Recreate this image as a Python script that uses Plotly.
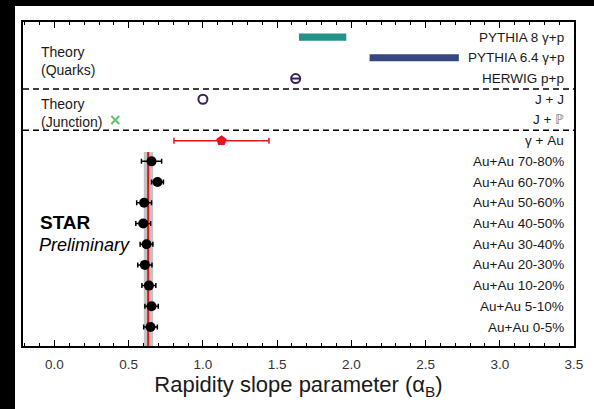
import plotly.graph_objects as go

# ---------------- data ----------------
auau_labels = ["Au+Au 0-5%", "Au+Au 5-10%", "Au+Au 10-20%", "Au+Au 20-30%", "Au+Au 30-40%",
               "Au+Au 40-50%", "Au+Au 50-60%", "Au+Au 60-70%", "Au+Au 70-80%"]
auau_y = [1, 2, 3, 4, 5, 6, 7, 8, 9]
auau_val = [0.647, 0.654, 0.636, 0.609, 0.620, 0.598, 0.604, 0.694, 0.654]
auau_err = [0.046, 0.045, 0.047, 0.048, 0.043, 0.050, 0.050, 0.040, 0.068]

gau_label = "γ + Au"
gau_y = 10
gau_val = 1.125
gau_err = 0.32

jp_label = "J + <span style='color:#888888'>ℙ</span>"
jp_y = 11
jp_val = 0.41

jj_label = "J + J"
jj_y = 12
jj_val = 1.0

herwig_label = "HERWIG p+p"
herwig_y = 13
herwig_val = 1.625

py64_label = "PYTHIA 6.4 γ+p"
py64_y = 14
py64_range = [2.123, 2.724]

py8_label = "PYTHIA 8 γ+p"
py8_y = 15
py8_range = [1.647, 1.966]

avg_val = 0.631              # red line
band_range = [0.602, 0.665]  # grey band
band_top = 9.45

separators = [10.5, 12.5]
xticks = [0.0, 0.5, 1.0, 1.5, 2.0, 2.5, 3.0, 3.5]

# ---------------- layout geometry ----------------
W, H = 594, 409
L, R, T, B = 23, 19.5, 22, 63
pw, ph = W - L - R, H - T - B
def px_x(p):
    return (p - L) / pw
def px_y(p):
    return (H - B - p) / ph

FONT = "Liberation Sans, Arial, Helvetica, sans-serif"
TXT = "#1a1a1a"

fig = go.Figure()

# grey band
fig.add_trace(go.Scatter(
    x=[band_range[0], band_range[1], band_range[1], band_range[0], band_range[0]],
    y=[0, 0, band_top, band_top, 0],
    fill="toself", fillcolor="rgba(185,185,185,0.85)", line=dict(width=0),
    mode="lines", hoverinfo="skip", showlegend=False))
# red average line
fig.add_trace(go.Scatter(x=[avg_val, avg_val], y=[0, band_top], mode="lines",
                         line=dict(color="#e0141c", width=2), showlegend=False))

# Au+Au points
fig.add_trace(go.Scatter(
    x=auau_val, y=auau_y, mode="markers",
    marker=dict(color="black", size=10),
    error_x=dict(type="data", array=auau_err, color="black", thickness=1.5, width=2.5),
    showlegend=False))

# gamma + Au
fig.add_trace(go.Scatter(
    x=[gau_val], y=[gau_y], mode="markers",
    marker=dict(color="#e8141c", size=11, symbol="pentagon"),
    error_x=dict(type="data", array=[gau_err], color="#e8141c", thickness=1.5, width=3),
    showlegend=False))

# J + P
fig.add_trace(go.Scatter(x=[jp_val], y=[jp_y], mode="markers",
                         marker=dict(symbol="x-thin", size=8, line=dict(color="#62c26e", width=2)),
                         showlegend=False))
# J + J
fig.add_trace(go.Scatter(x=[jj_val], y=[jj_y], mode="markers",
                         marker=dict(symbol="circle-open", size=9, color="#3b1f5c",
                                     line=dict(color="#3b1f5c", width=2)),
                         showlegend=False))
# HERWIG
fig.add_trace(go.Scatter(x=[herwig_val], y=[herwig_y], mode="markers",
                         marker=dict(symbol="circle-open", size=9, color="#3b1f5c",
                                     line=dict(color="#3b1f5c", width=2)),
                         showlegend=False))
fig.add_trace(go.Scatter(x=[herwig_val], y=[herwig_y], mode="markers",
                         marker=dict(symbol="line-ew", size=7, color="#3b1f5c",
                                     line=dict(color="#3b1f5c", width=2)),
                         showlegend=False))

# PYTHIA bars
fig.add_trace(go.Bar(y=[py8_y], x=[py8_range[1] - py8_range[0]], base=[py8_range[0]],
                     orientation="h", width=0.34, marker=dict(color="#23928a", line=dict(width=0)),
                     showlegend=False))
fig.add_trace(go.Bar(y=[py64_y], x=[py64_range[1] - py64_range[0]], base=[py64_range[0]],
                     orientation="h", width=0.34, marker=dict(color="#34477f", line=dict(width=0)),
                     showlegend=False))

# invisible trace on the top axis so it gets drawn
fig.add_trace(go.Scatter(x=[xticks[0]], y=[1], xaxis="x2", mode="markers",
                         marker=dict(opacity=0), hoverinfo="skip", showlegend=False))

# separators
for s in separators:
    fig.add_shape(type="line", xref="paper", x0=0, x1=1, yref="y", y0=s, y1=s,
                  line=dict(color="black", width=1.5, dash="6px,4px"))

# right-hand labels
right_labels = [(l, y) for l, y in zip(auau_labels, auau_y)] + [
    (gau_label, gau_y), (jp_label, jp_y), (jj_label, jj_y), (herwig_label, herwig_y),
    (py64_label, py64_y), (py8_label, py8_y)]
for lab, yv in right_labels:
    fig.add_annotation(x=px_x(566), xref="paper", y=yv, yref="y", text=lab,
                       showarrow=False, xanchor="right", yanchor="middle",
                       font=dict(family=FONT, size=13.5, color=TXT))

# left texts
fig.add_annotation(x=px_x(39), xref="paper", y=px_y(61), yref="paper",
                   text="Theory<br>(Quarks)", showarrow=False, xanchor="left", yanchor="middle",
                   align="left", font=dict(family=FONT, size=14, color=TXT))
fig.add_annotation(x=px_x(39), xref="paper", y=px_y(113), yref="paper",
                   text="Theory<br>(Junction)", showarrow=False, xanchor="left", yanchor="middle",
                   align="left", font=dict(family=FONT, size=14, color=TXT))
fig.add_annotation(x=px_x(38), xref="paper", y=px_y(222), yref="paper",
                   text="<b>STAR</b>", showarrow=False, xanchor="left", yanchor="middle",
                   font=dict(family=FONT, size=19, color="black"))
fig.add_annotation(x=px_x(37), xref="paper", y=px_y(245), yref="paper",
                   text="<i>Preliminary</i>", showarrow=False, xanchor="left", yanchor="middle",
                   font=dict(family=FONT, size=18, color="black"))

# black border strips (photo crop edges)
fig.add_shape(type="rect", xref="paper", yref="paper", x0=px_x(-2), x1=px_x(15),
              y0=px_y(H + 2), y1=px_y(-2), fillcolor="black", line=dict(width=0), layer="below")
fig.add_shape(type="rect", xref="paper", yref="paper", x0=px_x(-2), x1=px_x(W + 2),
              y0=px_y(6), y1=px_y(-2), fillcolor="black", line=dict(width=0), layer="below")

tick_common = dict(ticks="inside", ticklen=6, tickwidth=1.3, tickcolor="black",
                   showgrid=False, zeroline=False, tickvals=xticks,
                   minor=dict(dtick=0.1, tick0=0, ticks="inside", ticklen=3, tickwidth=1,
                              tickcolor="black"))

fig.update_layout(
    width=W, height=H,
    margin=dict(l=L, r=R, t=T, b=B, pad=0),
    paper_bgcolor="white", plot_bgcolor="white",
    showlegend=False,
    barmode="overlay",
    xaxis=dict(range=[-0.212, 3.5], ticktext=[f"{v:.1f}" for v in xticks],
               showline=True, linecolor="black", linewidth=1.5, mirror=True,
               ticklabelstandoff=5,
               tickfont=dict(family=FONT, size=13.5, color="#333333"),
               title=dict(text="Rapidity slope parameter (α<sub>B</sub>)",
                          font=dict(family=FONT, size=22, color=TXT), standoff=6),
               **tick_common),
    xaxis2=dict(range=[-0.212, 3.5], overlaying="x", side="top", matches="x",
                showticklabels=False, showline=False, **tick_common),
    yaxis=dict(range=[0.083, 15.73], showticklabels=False, ticks="", showgrid=False,
               zeroline=False, showline=True, linecolor="black", linewidth=1.5, mirror=True),
)

fig.write_html("out.html")
